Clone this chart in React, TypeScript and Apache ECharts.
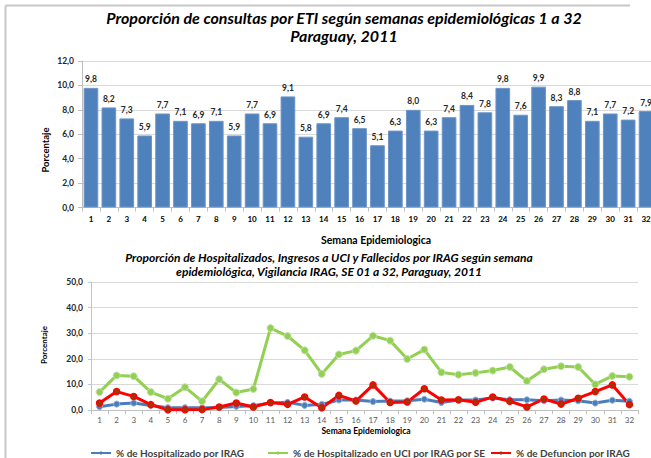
import React, { useEffect, useRef } from 'react';
import * as echarts from 'echarts';

const weeks = ['1','2','3','4','5','6','7','8','9','10','11','12','13','14','15','16','17','18','19','20','21','22','23','24','25','26','27','28','29','30','31','32'];

const etiValues = [9.8, 8.2, 7.3, 5.9, 7.7, 7.1, 6.9, 7.1, 5.9, 7.7, 6.9, 9.1, 5.8, 6.9, 7.4, 6.5, 5.1, 6.3, 8.0, 6.3, 7.4, 8.4, 7.8, 9.8, 7.6, 9.9, 8.3, 8.8, 7.1, 7.7, 7.2, 7.9];

const hospIrag = [1.3, 2.3, 2.7, 1.8, 0.9, 0.9, 0.9, 1.0, 1.4, 1.7, 2.7, 3.0, 1.8, 2.2, 3.9, 3.9, 3.3, 3.5, 3.6, 4.2, 2.9, 3.9, 3.9, 4.7, 4.0, 4.0, 3.6, 3.9, 3.6, 2.7, 3.8, 3.4];
const uciIrag = [7.0, 13.5, 13.2, 7.0, 4.4, 8.9, 3.4, 12.0, 6.8, 8.2, 32.0, 28.9, 23.3, 14.1, 21.7, 23.2, 29.0, 27.1, 19.9, 23.6, 14.7, 13.8, 14.5, 15.4, 16.8, 11.3, 15.9, 17.1, 16.8, 10.0, 13.3, 13.0];
const defIrag = [2.7, 7.2, 5.3, 2.1, 0.1, 0.1, 0.2, 1.2, 2.7, 1.2, 2.9, 2.2, 5.1, 0.9, 5.7, 3.5, 9.8, 2.9, 3.1, 8.3, 3.9, 4.0, 3.0, 5.1, 3.4, 1.2, 4.3, 2.3, 4.6, 7.2, 9.8, 2.1];

const seriesNames = ['% de Hospitalizado por IRAG', '% de Hospitalizado en UCI por IRAG por SE', '% de Defuncion por IRAG'];

const FONT = 'Lato, "Open Sans", sans-serif';
const fmt = (v: number) => v.toFixed(1).replace('.', ',');

export default function App() {
  const ref = useRef<HTMLDivElement>(null);
  useEffect(() => {
    document.body.style.margin = '0';
    const chart = echarts.init(ref.current!, undefined, { renderer: 'svg' });
    const legendBase = {
      top: 443,
      itemWidth: 20,
      itemHeight: 4,
      itemGap: 4,
      itemStyle: { borderWidth: 0 },
      textStyle: { fontFamily: FONT, fontWeight: 'bold', fontSize: 10, color: '#404040' },
    };
    chart.setOption({
      animation: false,
      backgroundColor: '#ffffff',
      textStyle: { fontFamily: FONT },
      graphic: [
        { type: 'line', shape: { x1: 5.5, y1: 5.5, x2: 630, y2: 5.5 }, style: { stroke: '#c8c8c8', lineWidth: 2 } },
        { type: 'line', shape: { x1: 5.5, y1: 5.5, x2: 5.5, y2: 458 }, style: { stroke: '#c8c8c8', lineWidth: 2 } },
        { type: 'text', x: 344, y: 17, style: { text: 'Proporción de consultas por ETI según semanas epidemiológicas 1 a 32', font: 'italic bold 16px ' + FONT, fill: '#000', textAlign: 'center', textVerticalAlign: 'middle' } },
        { type: 'text', x: 344, y: 35, style: { text: 'Paraguay, 2011', font: 'italic bold 16px ' + FONT, fill: '#000', textAlign: 'center', textVerticalAlign: 'middle' } },
        { type: 'text', x: 45, y: 150, rotation: Math.PI / 2, style: { text: 'Porcentaje', font: 'bold 9.5px ' + FONT, fill: '#000', textAlign: 'center', textVerticalAlign: 'middle' } },
        { type: 'text', x: 376, y: 240, style: { text: 'Semana Epidemiologica', font: 'bold 10.5px ' + FONT, fill: '#000', textAlign: 'center', textVerticalAlign: 'middle' } },
        { type: 'text', x: 329, y: 257, style: { text: 'Proporción de Hospitalizados, Ingresos a UCI y Fallecidos por IRAG según semana', font: 'italic bold 12px ' + FONT, fill: '#000', textAlign: 'center', textVerticalAlign: 'middle' } },
        { type: 'text', x: 329, y: 271.5, style: { text: 'epidemiológica, Vigilancia IRAG, SE 01 a 32, Paraguay, 2011', font: 'italic bold 12px ' + FONT, fill: '#000', textAlign: 'center', textVerticalAlign: 'middle' } },
        { type: 'text', x: 44, y: 345, rotation: Math.PI / 2, style: { text: 'Porcentaje', font: 'bold 8px ' + FONT, fill: '#000', textAlign: 'center', textVerticalAlign: 'middle' } },
        { type: 'text', x: 366, y: 431, style: { text: 'Semana Epidemiologica', font: 'bold 8.5px ' + FONT, fill: '#000', textAlign: 'center', textVerticalAlign: 'middle' } },
      ],
      legend: [
        { ...legendBase, left: 85, data: [seriesNames[0]] },
        { ...legendBase, left: 262, data: [seriesNames[1]] },
        { ...legendBase, left: 485, data: [seriesNames[2]] },
      ],
      grid: [
        { left: 82, top: 61, width: 573, height: 146.5 },
        { left: 91, top: 282, width: 547, height: 128 },
      ],
      xAxis: [
        {
          type: 'category', gridIndex: 0, data: weeks,
          axisLine: { lineStyle: { color: '#bfbfbf' } },
          axisTick: { show: true, length: 4, lineStyle: { color: '#bfbfbf' } },
          axisLabel: { margin: 7, fontSize: 8, fontWeight: 'bold', color: '#000', fontFamily: FONT, interval: 0 },
        },
        {
          type: 'category', gridIndex: 1, data: weeks,
          axisLine: { lineStyle: { color: '#bfbfbf' } },
          axisTick: { show: true, length: 4, lineStyle: { color: '#bfbfbf' } },
          axisLabel: { margin: 6, fontSize: 8, color: '#595959', fontFamily: FONT, interval: 0 },
        },
      ],
      yAxis: [
        {
          type: 'value', gridIndex: 0, min: 0, max: 12, interval: 2,
          axisLine: { show: true, lineStyle: { color: '#bfbfbf' } },
          axisTick: { show: true, length: 4, lineStyle: { color: '#bfbfbf' } },
          splitLine: { lineStyle: { color: '#d9d9d9' } },
          axisLabel: { margin: 8, fontSize: 8.5, fontWeight: 'bold', color: '#262626', fontFamily: FONT, formatter: fmt },
        },
        {
          type: 'value', gridIndex: 1, min: 0, max: 50, interval: 10,
          axisLine: { show: true, lineStyle: { color: '#b4c7e7' } },
          axisTick: { show: true, length: 3, lineStyle: { color: '#b4c7e7' } },
          splitLine: { lineStyle: { color: '#d9d9d9' } },
          axisLabel: { margin: 8, fontSize: 8.5, fontWeight: 'bold', color: '#262626', fontFamily: FONT, formatter: fmt },
        },
      ],
      series: [
        {
          type: 'bar', name: 'ETI', xAxisIndex: 0, yAxisIndex: 0, data: etiValues,
          barCategoryGap: '18%',
          itemStyle: { color: '#4f81bd', borderColor: '#6f96c8', borderWidth: 1 },
          label: { show: true, position: 'top', distance: 4, fontSize: 8.5, fontWeight: 'bold', color: '#262626', fontFamily: FONT, formatter: (p: any) => fmt(p.value) },
        },
        {
          type: 'line', name: seriesNames[0], xAxisIndex: 1, yAxisIndex: 1, data: hospIrag,
          symbol: 'circle', symbolSize: 6,
          lineStyle: { color: '#4a7ebb', width: 3 },
          itemStyle: { color: '#4a7ebb', borderColor: '#8eb0da', borderWidth: 1 },
        },
        {
          type: 'line', name: seriesNames[1], xAxisIndex: 1, yAxisIndex: 1, data: uciIrag,
          symbol: 'circle', symbolSize: 7,
          lineStyle: { color: '#92d050', width: 3 },
          itemStyle: { color: '#92d050', borderColor: '#c6e0b4', borderWidth: 1 },
        },
        {
          type: 'line', name: seriesNames[2], xAxisIndex: 1, yAxisIndex: 1, data: defIrag,
          symbol: 'circle', symbolSize: 6,
          lineStyle: { color: '#ff0000', width: 3 },
          itemStyle: { color: '#9a3a00', borderColor: '#ff0000', borderWidth: 1.5 },
        },
      ],
    });
    return () => chart.dispose();
  }, []);
  return (
    <div style={{ width: 651, height: 458, overflow: 'hidden', position: 'relative' }}>
      <div ref={ref} style={{ width: 680, height: 458 }} />
    </div>
  );
}
